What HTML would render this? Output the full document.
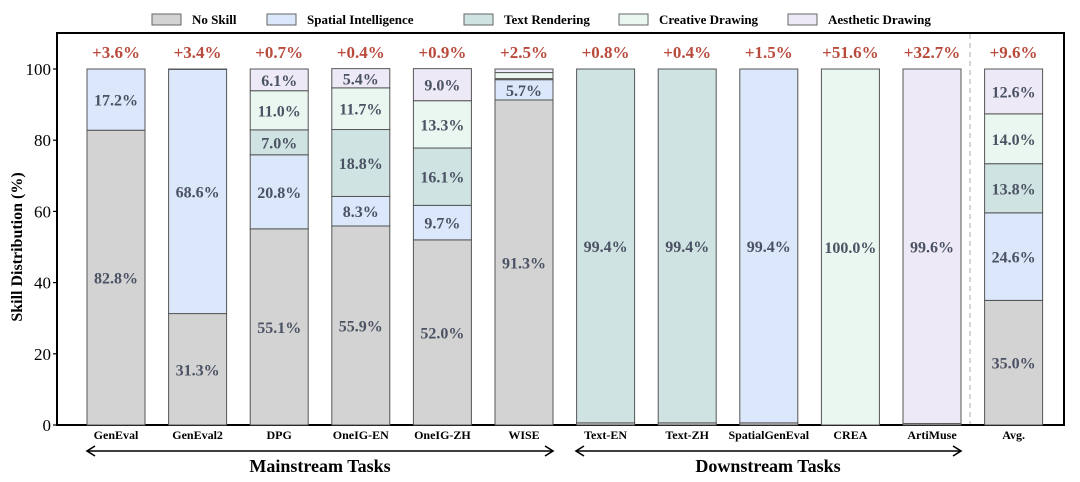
<!DOCTYPE html>
<html><head><meta charset="utf-8"><style>
body{margin:0;background:#fff;}
svg{display:block;font-family:"Liberation Serif",serif;}
</style></head><body>
<svg id="c" width="1080" height="482" viewBox="0 0 1080 482"></svg>
<script>
const categories=["GenEval","GenEval2","DPG","OneIG-EN","OneIG-ZH","WISE","Text-EN","Text-ZH","SpatialGenEval","CREA","ArtiMuse","Avg."];
const noSkill=[82.8,31.3,55.1,55.9,52.0,91.3,0.6,0.6,0.6,0,0.4,35.0];
const spatial=[17.2,68.6,20.8,8.3,9.7,5.7,0,0,99.4,0,0,24.6];
const textRender=[0,0,7.0,18.8,16.1,0.3,99.4,99.4,0,0,0,13.8];
const creative=[0,0,11.0,11.7,13.3,1.7,0,0,0,100.0,0,14.0];
const aesthetic=[0,0.1,6.1,5.4,9.0,1.0,0,0,0,0,99.6,12.6];
const gains=["+3.6%","+3.4%","+0.7%","+0.4%","+0.9%","+2.5%","+0.8%","+0.4%","+1.5%","+51.6%","+32.7%","+9.6%"];
const yTicks=[0,20,40,60,80,100];
const seriesNames=["No Skill","Spatial Intelligence","Text Rendering","Creative Drawing","Aesthetic Drawing"];
const seriesData=[noSkill,spatial,textRender,creative,aesthetic];
const colors=["#d3d3d3","#dbe7fb","#d0e3e3","#e9f7f0","#ede9f6"];

const svg=document.getElementById('c');
const NS="http://www.w3.org/2000/svg";
function mk(t,a,p){const e=document.createElementNS(NS,t);for(const k in a)e.setAttribute(k,a[k]);(p||svg).appendChild(e);return e;}
const y0=425,y100=69;
const y=v=>y0-(y0-y100)*v/100;
const x=i=>116+i*81.6;
const bw=58;

const frame=mk('rect',{x:57,y:33,width:1007,height:392,fill:'none',stroke:'#000','stroke-width':2});


yTicks.forEach(t=>{
 const l=mk('line',{x1:53,x2:57,y1:y(t),y2:y(t),stroke:'#000','stroke-width':1.2});
 
 
 const tx=mk('text',{x:51,y:y(t)+6,'text-anchor':'end','font-size':17});
 tx.textContent=t;
 
 
});
const yt=mk('text',{x:0,y:0,transform:'translate(22,247) rotate(-90)','text-anchor':'middle','font-size':16,'font-weight':'bold'});
yt.textContent='Skill Distribution (%)';



const ds=mk('line',{x1:970,x2:970,y1:34,y2:424,stroke:'#bbb','stroke-dasharray':'5,4','stroke-width':1.2});



categories.forEach((c,i)=>{
 let acc=0;
 seriesData.forEach((arr,s)=>{
  const v=arr[i]; if(v<=0)return;
  const r=mk('rect',{x:x(i)-bw/2,y:y(acc+v),width:bw,height:y(acc)-y(acc+v),fill:colors[s],stroke:'#555','stroke-width':1});
  
  
  if(v>=5){
   const t=mk('text',{x:x(i),y:y(acc+v/2)+6,'text-anchor':'middle','font-size':16,'font-weight':'bold',fill:'#4a5263'});
   t.textContent=v.toFixed(1)+'%';
   
   
  }
  acc+=v;
 });
 const g=mk('text',{x:x(i),y:58,'text-anchor':'middle','font-size':17,'font-weight':'bold',fill:'#b94a3c'});
 g.textContent=gains[i];
 
 
 const cl=mk('text',{x:x(i),y:439,'text-anchor':'middle','font-size':12,'font-weight':'bold'});
 cl.textContent=c;
 
 
});

const legX=[152,267,464,619,788];
seriesNames.forEach((n,s)=>{
 const r=mk('rect',{x:legX[s],y:14,width:29,height:11,fill:colors[s],stroke:'#666','stroke-width':1});
 
 
 const t=mk('text',{x:legX[s]+40,y:24,'font-size':13,'font-weight':'bold'});
 t.textContent=n;
 
 
});

function arrow(x1,x2,name){
 const g=mk('g',{stroke:'#000','stroke-width':1.6,fill:'none'});
 
 
 mk('line',{x1:x1,x2:x2,y1:451,y2:451},g);
 mk('polyline',{points:`${x1+8},446 ${x1},451 ${x1+8},456`},g);
 mk('polyline',{points:`${x2-8},446 ${x2},451 ${x2-8},456`},g);
}
arrow(87,553,'mainstream-arrow');
arrow(576,961,'downstream-arrow');
const m=mk('text',{x:320,y:472,'text-anchor':'middle','font-size':18,'font-weight':'bold'});
m.textContent='Mainstream Tasks';


const d=mk('text',{x:768,y:472,'text-anchor':'middle','font-size':18,'font-weight':'bold'});
d.textContent='Downstream Tasks';


</script>
</body></html>
